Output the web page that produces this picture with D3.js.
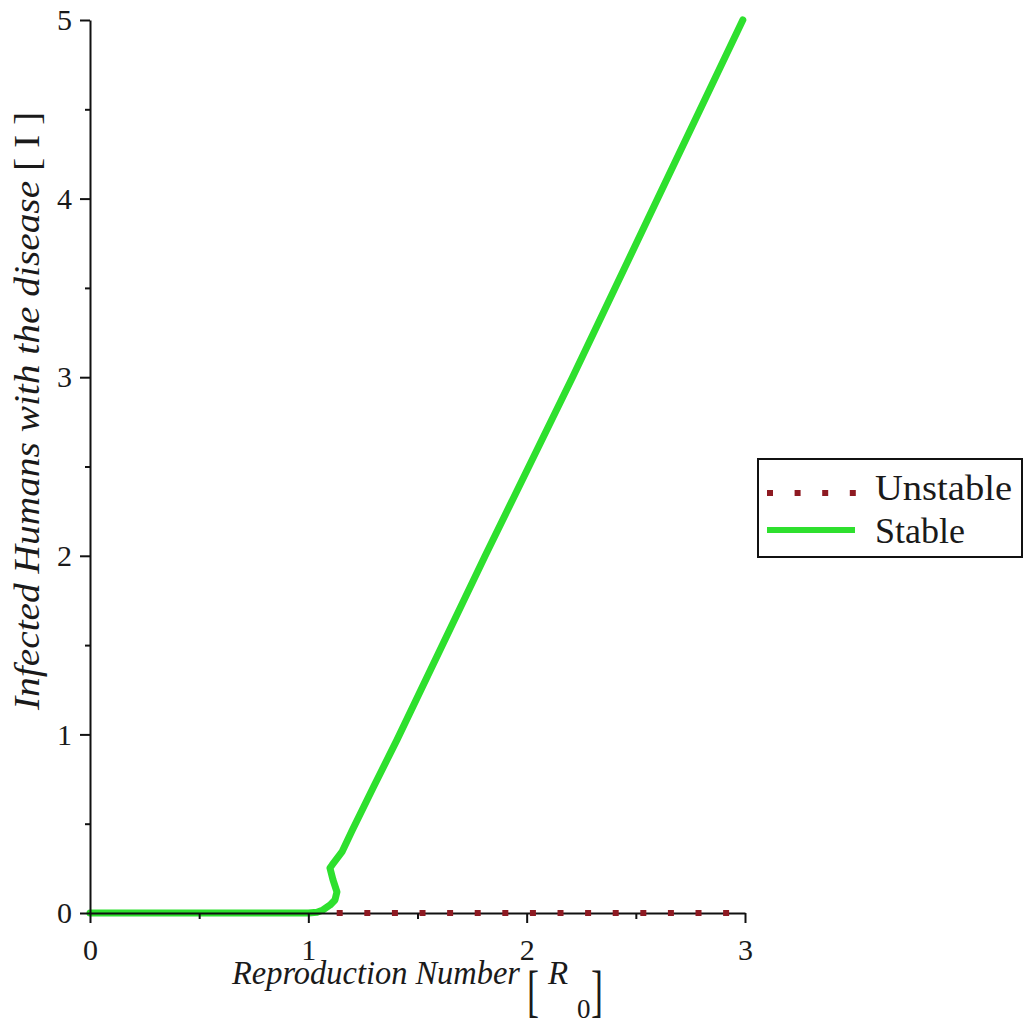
<!DOCTYPE html>
<html>
<head>
<meta charset="utf-8">
<script src="https://cdn.jsdelivr.net/npm/d3@7"></script>
<style>
  html, body { margin: 0; padding: 0; background: #fff; }
  svg { display: block; }
  text { font-family: "Liberation Serif", "Times New Roman", serif; fill: #1a1a1a; }
</style>
</head>
<body>
<svg id="chart" width="1031" height="1030"></svg>
<script>
// Endemic equilibrium branch (stable) as R0 varies
const stableR = [0, 0.5, 1.0, 1.04, 1.067, 1.10, 1.122, 1.131, 1.113, 1.099, 1.109, 1.154, 1.20, 1.25, 1.30, 1.406, 1.81, 2.21, 2.60, 2.99];
const stableI = [0, 0, 0, 0.004, 0.017, 0.045, 0.073, 0.118, 0.185, 0.252, 0.269, 0.342, 0.46, 0.585, 0.71, 0.969, 2.0, 3.0, 4.0, 5.0];

// Disease-free equilibrium after it loses stability
const unstableR = [1.13, 3.0];
const unstableI = [0, 0];

// Axis ticks
const xMajorTicks = [0, 1, 2, 3];
const xMinorTicks = [0.5, 1.5, 2.5];
const yMajorTicks = [0, 1, 2, 3, 4, 5];
const yMinorTicks = [0.5, 1.5, 2.5, 3.5, 4.5];

const legendLabels = ["Unstable", "Stable"];

const GREEN = "#2ee02e";
const RED = "#8e1a22";

const svg = d3.select("#chart");

const x = d3.scaleLinear().domain([0, 3]).range([90, 745]);
const y = d3.scaleLinear().domain([0, 5]).range([913, 20]);

const line = d3.line().x(d => x(d[0])).y(d => y(d[1]));

// Stable branch
svg.append("path")
  .datum(stableR.map((r, i) => [r, stableI[i]]))
  .attr("d", line)
  .attr("fill", "none")
  .attr("stroke", GREEN)
  .attr("stroke-width", 7)
  .attr("stroke-linejoin", "round")
  .attr("stroke-linecap", "round");

// Axes
const axisStyle = g => {
  g.selectAll("path.domain").attr("stroke", "#111").attr("stroke-width", 2);
  g.selectAll(".tick line").attr("stroke", "#111").attr("stroke-width", 2);
  g.selectAll(".tick text")
    .attr("font-family", "Liberation Serif, serif")
    .attr("font-size", 30)
    .attr("fill", "#1a1a1a");
};

svg.append("g")
  .attr("transform", `translate(0,${y(0)})`)
  .call(d3.axisBottom(x).tickValues(xMinorTicks).tickSize(6).tickSizeOuter(0).tickFormat(""))
  .call(g => g.select(".domain").remove())
  .call(axisStyle);

svg.append("g")
  .attr("transform", `translate(0,${y(0)})`)
  .call(d3.axisBottom(x).tickValues(xMajorTicks).tickSize(10).tickSizeOuter(0).tickPadding(16).tickFormat(d3.format("d")))
  .call(axisStyle);

svg.append("g")
  .attr("transform", `translate(${x(0)},0)`)
  .call(d3.axisLeft(y).tickValues(yMinorTicks).tickSize(5).tickSizeOuter(0).tickFormat(""))
  .call(g => g.select(".domain").remove())
  .call(axisStyle);

svg.append("g")
  .attr("transform", `translate(${x(0)},0)`)
  .call(d3.axisLeft(y).tickValues(yMajorTicks).tickSize(10).tickSizeOuter(0).tickPadding(8).tickFormat(d3.format("d")))
  .call(axisStyle);

// Unstable branch (square dots)
svg.append("path")
  .datum(unstableR.map((r, i) => [r, unstableI[i]]))
  .attr("d", line)
  .attr("fill", "none")
  .attr("stroke", RED)
  .attr("stroke-width", 6)
  .attr("stroke-dasharray", "6 21.6");

// X axis title
const xt = svg.append("g");
xt.append("text")
  .attr("x", 232).attr("y", 984)
  .attr("font-size", 33).attr("font-style", "italic")
  .attr("textLength", 288).attr("lengthAdjust", "spacingAndGlyphs")
  .text("Reproduction Number");
// tall brackets: a small glyph stretched vertically
xt.append("text")
  .attr("transform", "translate(527,1010) scale(1,1.6)")
  .attr("font-size", 36)
  .text("[");
xt.append("text")
  .attr("x", 548).attr("y", 984)
  .attr("font-size", 33).attr("font-style", "italic")
  .text("R");
xt.append("text")
  .attr("x", 577).attr("y", 1018)
  .attr("font-size", 27)
  .text("0");
xt.append("text")
  .attr("transform", "translate(603,1010) scale(1,1.6)")
  .attr("text-anchor", "end")
  .attr("font-size", 36)
  .text("]");

// Y axis title
const yt = svg.append("text")
  .attr("transform", "translate(39,411) rotate(-90)")
  .attr("text-anchor", "middle")
  .attr("font-size", 35)
  .attr("textLength", 598).attr("lengthAdjust", "spacingAndGlyphs");
yt.append("tspan").attr("font-style", "italic").text("Infected Humans with the disease ");
yt.append("tspan").text("[ I ]");

// Legend
const lg = svg.append("g");
lg.append("rect")
  .attr("x", 758).attr("y", 459).attr("width", 264).attr("height", 98)
  .attr("fill", "#fff").attr("stroke", "#111").attr("stroke-width", 2);
lg.append("line")
  .attr("x1", 767).attr("x2", 856).attr("y1", 493).attr("y2", 493)
  .attr("stroke", RED).attr("stroke-width", 6).attr("stroke-dasharray", "6 21.6");
lg.append("line")
  .attr("x1", 767).attr("x2", 855).attr("y1", 530).attr("y2", 530)
  .attr("stroke", GREEN).attr("stroke-width", 6);
lg.selectAll("text.lab")
  .data(legendLabels)
  .join("text")
  .attr("class", "lab")
  .attr("x", 875)
  .attr("y", (d, i) => 500 + i * 43)
  .attr("font-size", 36)
  .attr("textLength", (d, i) => i === 0 ? 137 : 90)
  .attr("lengthAdjust", "spacingAndGlyphs")
  .text(d => d);
</script>
</body>
</html>
